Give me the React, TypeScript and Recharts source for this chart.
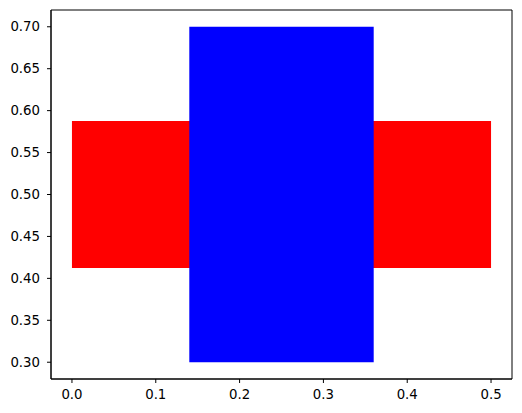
import React from 'react';
import { ComposedChart, XAxis, YAxis, ReferenceArea } from 'recharts';

const rectNames = ['red', 'blue'];
const rectX0 = [0.0, 0.14];
const rectX1 = [0.5, 0.36];
const rectY0 = [0.4125, 0.3];
const rectY1 = [0.5875, 0.7];
const rectColors = ['#ff0000', '#0000ff'];

const xTicks = [0.0, 0.1, 0.2, 0.3, 0.4, 0.5];
const yTicks = [0.3, 0.35, 0.4, 0.45, 0.5, 0.55, 0.6, 0.65, 0.7];
const xDomain: [number, number] = [-0.025, 0.525];
const yDomain: [number, number] = [0.28, 0.72];

const font = { fontFamily: 'DejaVu Sans', fontSize: 13.3, fill: '#000' };

export default function App() {
  return (
    <div style={{ position: 'absolute', left: 0, top: 0 }}>
      <ComposedChart width={522} height={413} margin={{ top: 10, right: 10, left: 0, bottom: 0 }}>
        <XAxis
          type="number"
          dataKey="x"
          domain={xDomain}
          ticks={xTicks}
          allowDataOverflow
          tickFormatter={(v: number) => v.toFixed(1)}
          height={34}
          tickSize={4}
          tickMargin={7}
          tick={font}
          stroke="#000"
          tickLine={{ stroke: '#000' }}
        />
        <YAxis
          type="number"
          dataKey="y"
          domain={yDomain}
          ticks={yTicks}
          allowDataOverflow
          tickFormatter={(v: number) => v.toFixed(2)}
          width={51}
          tickSize={4}
          tickMargin={7}
          tick={font}
          stroke="#000"
          tickLine={{ stroke: '#000' }}
        />
        {rectNames.map((n, i) => (
          <ReferenceArea
            key={n}
            x1={rectX0[i]}
            x2={rectX1[i]}
            y1={rectY0[i]}
            y2={rectY1[i]}
            fill={rectColors[i]}
            fillOpacity={1}
            stroke="none"
            ifOverflow="visible"
          />
        ))}
        <ReferenceArea
          x1={xDomain[0]}
          x2={xDomain[1]}
          y1={yDomain[0]}
          y2={yDomain[1]}
          fill="none"
          stroke="#000"
          strokeWidth={1}
          ifOverflow="visible"
        />
      </ComposedChart>
    </div>
  );
}
